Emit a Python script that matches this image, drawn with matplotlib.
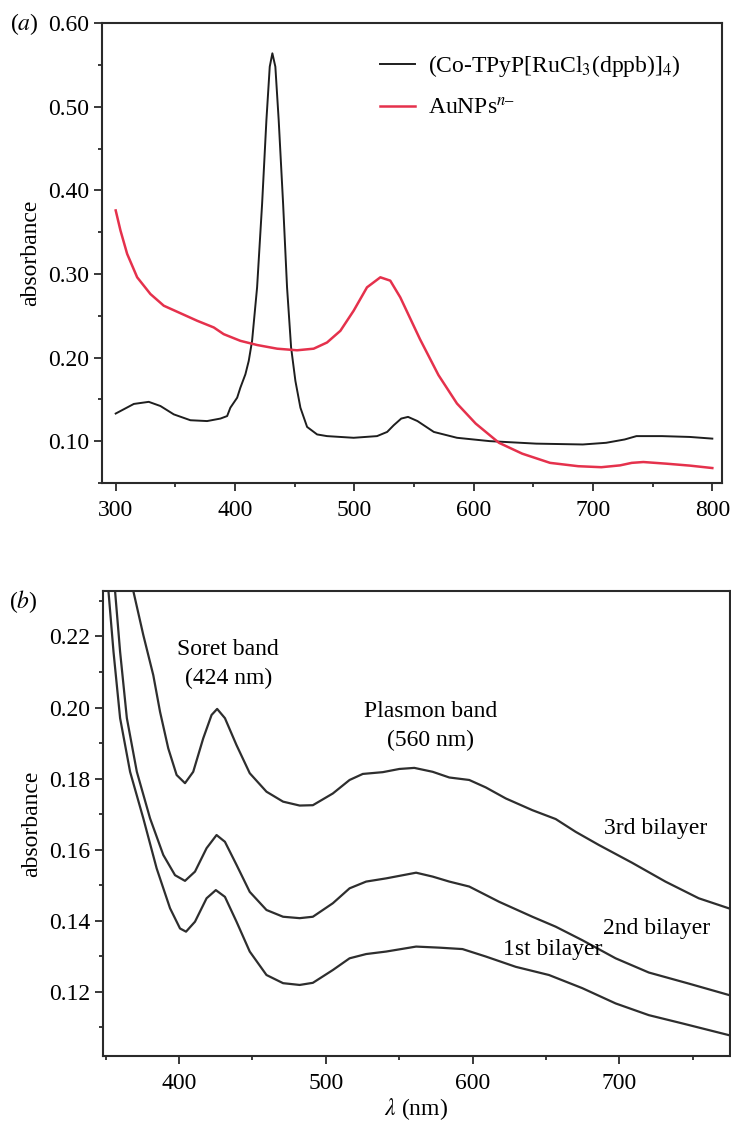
import numpy as np
import matplotlib
matplotlib.use("Agg")
import matplotlib.pyplot as plt
from matplotlib.ticker import MultipleLocator, FormatStrFormatter

plt.rcParams['font.family'] = ['Liberation Serif', 'DejaVu Serif']
plt.rcParams['mathtext.fontset'] = 'stix'

# ---- panel (a): UV-vis of the porphyrin and the gold nanoparticles ----
wl_co = [300, 315.2, 327.7, 337.5, 348.7, 362.6, 376.6, 387.8, 393.4, 396.1,
         401.8, 404.5, 408.7, 411.5, 414.3, 418.5, 422.7, 426.3, 429.1, 431.3,
         433.8, 436.6, 440.3, 443.6, 447, 450.6, 454.8, 460.4, 468.8, 477.1,
         499.4, 519, 527.5, 533, 539.3, 545, 552.9, 566.6, 586, 613.4, 652.4,
         691.5, 711, 726.6, 736.4, 757.8, 781.2, 800]
abs_co = [0.133, 0.1445, 0.147, 0.142, 0.132, 0.125, 0.124, 0.127, 0.130, 0.140,
          0.152, 0.164, 0.180, 0.196, 0.220, 0.284, 0.384, 0.484, 0.548, 0.564,
          0.548, 0.484, 0.384, 0.284, 0.212, 0.172, 0.140, 0.117, 0.108, 0.106,
          0.104, 0.106, 0.111, 0.119, 0.127, 0.129, 0.124, 0.111, 0.104, 0.100,
          0.097, 0.096, 0.098, 0.102, 0.106, 0.106, 0.105, 0.103]

wl_au = [300, 304, 309.6, 318, 329.1, 340.3, 354.3, 368.3, 382.2, 390.5, 404.5,
         418.5, 435.3, 452, 465.9, 477.1, 488.3, 499.4, 510.6, 521.8, 530.1,
         538.5, 555, 570.5, 586, 601.7, 621.2, 640.7, 664, 687.6, 707, 722.7,
         732.5, 742.2, 761.7, 781.2, 800]
abs_au = [0.376, 0.352, 0.324, 0.296, 0.276, 0.262, 0.253, 0.244, 0.236, 0.228,
          0.220, 0.215, 0.2106, 0.2087, 0.2106, 0.218, 0.232, 0.256, 0.284, 0.296,
          0.292, 0.272, 0.222, 0.179, 0.145, 0.121, 0.098, 0.085, 0.074, 0.070,
          0.0688, 0.071, 0.074, 0.075, 0.073, 0.0707, 0.0678]

# ---- panel (b): multilayer films ----
wl_b1 = [348, 352, 355.4, 359.9, 366.7, 375.7, 384.8, 393.9, 400.7, 404.8,
         410.9, 418.8, 425.1, 431.3, 439.2, 448.2, 459.6, 470.9, 482.2, 491.2,
         504.8, 516.2, 527.5, 541.1, 561.5, 577.3, 593.1, 609, 629.4, 652,
         674.7, 697.4, 720, 742.6, 774.3]
abs_b1 = [0.250, 0.2326, 0.2157, 0.1970, 0.1819, 0.1688, 0.1547, 0.1435, 0.1378,
          0.1369, 0.1397, 0.1463, 0.1486, 0.1467, 0.1397, 0.1313, 0.1247, 0.1224,
          0.1219, 0.1225, 0.1261, 0.1294, 0.1306, 0.1313, 0.1327, 0.1324, 0.1320,
          0.1299, 0.1270, 0.1247, 0.1210, 0.1167, 0.1134, 0.1111, 0.1078]

wl_b2 = [352, 356.5, 359.9, 364.5, 371.3, 380.3, 389.3, 397.3, 404.1, 410.9,
         418.8, 425.6, 431.3, 439.2, 448.2, 459.6, 470.9, 482.2, 491.2, 504.8,
         516.2, 527.5, 541.1, 561.5, 572.8, 584.1, 597.7, 618.1, 640.7, 656.6,
         674.7, 697.4, 720, 747.1, 774.3]
abs_b2 = [0.248, 0.2326, 0.2157, 0.1970, 0.1819, 0.1688, 0.1585, 0.1528, 0.1512,
          0.1538, 0.1604, 0.1641, 0.1622, 0.1557, 0.1481, 0.1430, 0.1411, 0.1407,
          0.1411, 0.1449, 0.1491, 0.1510, 0.1519, 0.1535, 0.1524, 0.1510, 0.1496,
          0.1453, 0.1411, 0.1383, 0.1345, 0.1294, 0.1254, 0.1223, 0.1191]

wl_b3 = [362, 369, 375.7, 382.5, 387.1, 392.7, 398.4, 404.1, 409.7, 416.5,
         422.2, 426, 431.3, 439.2, 448.2, 459.6, 470.9, 482.2, 491.2, 504.8,
         516.2, 525.2, 538.8, 550.1, 560.3, 572.8, 584.1, 597.7, 609, 622.6,
         640.7, 656.6, 670.2, 686, 708.6, 731.3, 754, 774.3]
abs_b3 = [0.250, 0.2326, 0.2204, 0.2091, 0.1988, 0.1885, 0.1810, 0.1787, 0.1819,
          0.1913, 0.1979, 0.1996, 0.1970, 0.1894, 0.1815, 0.1763, 0.1735, 0.1724,
          0.1725, 0.1758, 0.1796, 0.1813, 0.1818, 0.1827, 0.1830, 0.1819, 0.1803,
          0.1796, 0.1775, 0.1744, 0.1711, 0.1686, 0.1650, 0.1613, 0.1563, 0.1510,
          0.1463, 0.1435]

fig = plt.figure(figsize=(7.31, 11.27), dpi=100)
FS = 17

def style(ax):
    for s in ax.spines.values():
        s.set_linewidth(1.5)
        s.set_color('#2a2a2a')
    ax.tick_params(which='both', direction='out', top=False, right=False,
                   color='#2a2a2a', width=1.3, labelsize=FS)
    ax.tick_params(axis='x', pad=6)
    ax.tick_params(axis='y', pad=3)
    ax.tick_params(which='major', length=6)
    ax.tick_params(which='minor', length=3)

# (a)
ax1 = fig.add_axes([0.1395, 0.5715, 0.848, 0.4079])
ax1.plot(wl_co, abs_co, color='#1e1e1e', lw=1.4, solid_joinstyle='round',
         label='(Co-TPyP[RuCl$_3$(dppb)]$_4$)')
ax1.plot(wl_au, abs_au, color='#e5314c', lw=1.8, solid_joinstyle='round',
         label='AuNPs$^{n\u2013}$')
ax1.set_xlim(288.5, 808)
ax1.set_ylim(0.05, 0.60)
ax1.xaxis.set_major_locator(MultipleLocator(100))
ax1.xaxis.set_minor_locator(MultipleLocator(50))
ax1.yaxis.set_major_locator(MultipleLocator(0.1))
ax1.yaxis.set_minor_locator(MultipleLocator(0.05))
ax1.yaxis.set_major_formatter(FormatStrFormatter('%.2f'))
style(ax1)
ax1.set_ylabel('absorbance', fontsize=FS, labelpad=5)
ax1.legend(loc='upper left', bbox_to_anchor=(0.449, 0.935), frameon=False,
           fontsize=FS, handlelength=1.45, handletextpad=0.55, labelspacing=0.8,
           borderpad=0, borderaxespad=0)
fig.text(0.013, 0.979, '($a$)', fontsize=FS, va='center', ha='left')

# (b)
ax2 = fig.add_axes([0.1404, 0.063, 0.8576, 0.4123])
for w, a in [(wl_b1, abs_b1), (wl_b2, abs_b2), (wl_b3, abs_b3)]:
    ax2.plot(w, a, color='#2e2e2e', lw=1.6, solid_joinstyle='round')
ax2.set_xlim(348, 775)
ax2.set_ylim(0.1019, 0.2327)
ax2.xaxis.set_major_locator(MultipleLocator(100))
ax2.xaxis.set_minor_locator(MultipleLocator(50))
ax2.yaxis.set_major_locator(MultipleLocator(0.02))
ax2.yaxis.set_minor_locator(MultipleLocator(0.01))
ax2.yaxis.set_major_formatter(FormatStrFormatter('%.2f'))
style(ax2)
ax2.set_ylabel('absorbance', fontsize=FS, labelpad=5)
ax2.set_xlabel('$\\lambda$ (nm)', fontsize=FS, labelpad=2)
fig.text(0.012, 0.466, '($b$)', fontsize=FS, va='center', ha='left')

kw = dict(fontsize=FS, ha='center', va='center')
ax2.text(433.6, 0.2162, 'Soret band', **kw)
ax2.text(433.6, 0.2082, '(424 nm)', **kw)
ax2.text(571.2, 0.1988, 'Plasmon band', **kw)
ax2.text(571.2, 0.1906, '(560 nm)', **kw)
ax2.text(724.4, 0.1660, '3rd bilayer', **kw)
ax2.text(725.6, 0.1378, '2nd bilayer', **kw)
ax2.text(654.8, 0.1319, '1st bilayer', **kw)

fig.savefig('out.png', dpi=100)
